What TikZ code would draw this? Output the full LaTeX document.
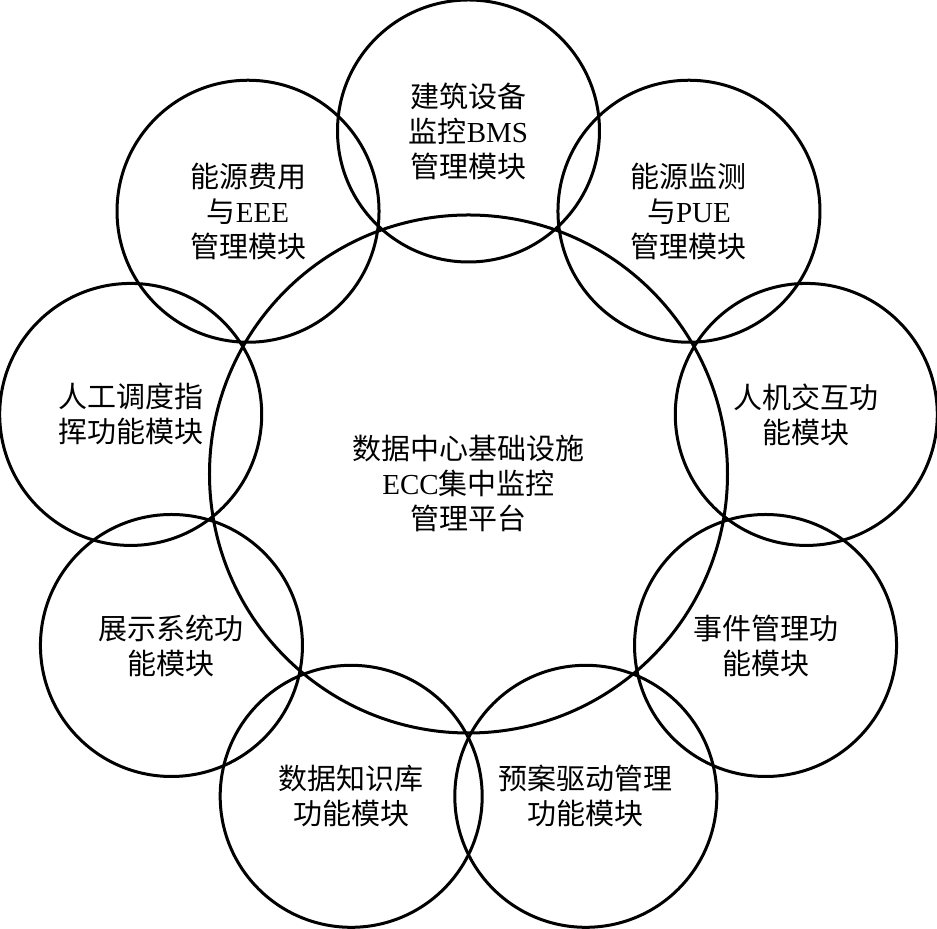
\documentclass[tikz,border=0pt]{standalone}
\usepackage{fontspec}
\setmainfont{Liberation Serif}
\newfontfamily\cjk{Noto Sans CJK SC}
\newcommand\lat[1]{{\rmfamily #1}}
\usetikzlibrary{calc}

\begin{document}
\begin{tikzpicture}[
    x=0.5pt, y=0.5pt,
    ring/.style={circle, draw, line width=1.5pt, inner sep=0pt, align=center,
        font=\cjk\fontsize{14.5pt}{17.5pt}\selectfont},
    hub/.style={ring, minimum size=259pt},
    mod/.style={ring, minimum size=131pt}
]
    \useasboundingbox (-468.5,-455) rectangle (468.5,474);

    % Platform
    \node[hub] (ecc) at (0,0) {\\[4pt]数据中心基础设施\\\lat{ECC}集中监控\\管理平台};

    % Modules
    \node[mod] (bms) at ($(ecc)+(90:343)$) {建筑设备\\监控\lat{BMS}\\管理模块};
    \node[mod] (pue) at ($(ecc)+(50:343)$) {能源监测\\与\lat{PUE}\\管理模块};
    \node[mod] (hmi) at ($(ecc)+(10:343)$) {人机交互功\\能模块};
    \node[mod] (evt) at ($(ecc)+(-30:343)$) {事件管理功\\能模块};
    \node[mod] (plan) at ($(ecc)+(-70:343)$) {预案驱动管理\\功能模块};
    \node[mod] (kb) at ($(ecc)+(-110:343)$) {数据知识库\\功能模块};
    \node[mod] (disp) at ($(ecc)+(-150:343)$) {展示系统功\\能模块};
    \node[mod] (cmd) at ($(ecc)+(170:343)$) {人工调度指\\挥功能模块};
    \node[mod] (eee) at ($(ecc)+(130:343)$) {能源费用\\与\lat{EEE}\\管理模块};
\end{tikzpicture}
\end{document}
